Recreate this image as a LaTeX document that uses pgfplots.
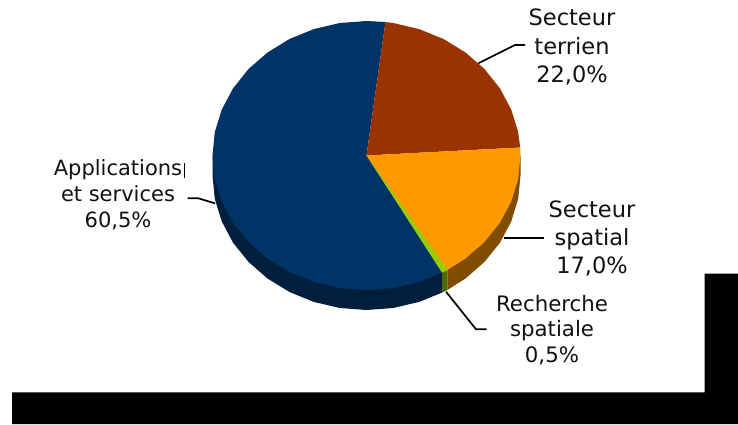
\documentclass[border=0pt]{standalone}
\usepackage{fontspec}
\setmainfont{DejaVu Sans}
\usepackage{pgfplots}
\pgfplotsset{compat=1.18}

\definecolor{bleu}{HTML}{003366}
\definecolor{bleusombre}{HTML}{001F3D}
\definecolor{brique}{HTML}{993300}
\definecolor{orange}{HTML}{FF9900}
\definecolor{orangesombre}{HTML}{804D00}
\definecolor{vert}{HTML}{99CC00}
\definecolor{vertsombre}{HTML}{4D6600}
\definecolor{texte}{HTML}{111111}

\tikzset{lbl/.style={align=center, text=texte, inner sep=0pt}}

\begin{document}
\begin{tikzpicture}
\begin{axis}[
    scale only axis,
    width=738pt, height=424pt,
    xmin=0, xmax=738, ymin=0, ymax=424,
    y dir=reverse,
    axis lines=none,
    every axis plot/.append style={forget plot},
]
% black border left over at the bottom right of the source image
\addplot[fill=black, draw=none] coordinates {(12,392.3) (704.5,392.3) (704.5,273.5) (738,273.5) (738,424) (12,424)};

% pie side, 20 px deep
\addplot[fill=bleusombre, draw=none] coordinates {(366.5,155.5) (212.5,155.5) (212.5,175.5) (214.8,198.9) (221.8,221.5) (233.1,242.8) (248.5,261.9) (267.5,278.5) (289.5,292) (313.8,301.9) (339.8,308) (366.5,310) (393.2,308) (419.2,301.9) (442,292.6) (442,272.6)};
\addplot[fill=orangesombre, draw=none] coordinates {(366.5,155.5) (447.5,269.9) (447.5,289.9) (465.5,278.5) (484.5,261.9) (499.9,242.8) (511.2,221.5) (518.2,198.9) (520.5,175.5) (520.5,155.5)};
\addplot[fill=vertsombre, draw=none] coordinates {(442,272.6) (442,292.6) (447.5,289.9) (447.5,269.9)};

% pie top
\addplot[fill=bleu, draw=none] coordinates {(366.5,155.5) (385.5,22) (366.5,21) (339.8,23) (313.8,29.1) (289.5,39) (267.5,52.5) (248.5,69) (233.1,88.3) (221.8,109.5) (214.8,132.1) (212.5,155.5) (214.8,178.9) (221.8,201.5) (233.1,222.8) (248.5,241.9) (267.5,258.5) (289.5,272) (313.8,281.9) (339.8,288) (366.5,290) (393.2,288) (419.2,281.9) (442,272.6)};
\addplot[fill=brique, draw=none] coordinates {(366.5,155.5) (385.5,22) (393.2,23) (419.2,29.1) (443.5,39) (465.5,52.5) (484.5,69) (499.9,88.3) (511.2,109.5) (518.2,132.1) (520.2,147.5)};
\addplot[fill=orange, draw=none] coordinates {(366.5,155.5) (520.2,147.5) (520.5,155.5) (518.2,178.9) (511.2,201.5) (499.9,222.8) (484.5,241.9) (465.5,258.5) (447.5,269.9)};
\addplot[fill=vert, draw=none] coordinates {(366.5,155.5) (447.5,269.9) (442,272.6)};

% leader lines
\addplot[black, line width=1.7pt] coordinates {(478.3,63.3) (515,45) (525,45)};
\addplot[black, line width=1.7pt] coordinates {(504,237.7) (544,237.7)};
\addplot[black, line width=1.7pt] coordinates {(446,291.7) (476,329.3) (486.7,329.3)};
\addplot[black, line width=1.7pt] coordinates {(215,203.3) (198.3,198.3) (187.7,198.3)};
\addplot[black, line width=1pt] coordinates {(184,163.3) (184,178)};

\node[lbl, font=\fontsize{22.5}{28.5}\selectfont] at (axis cs:572,47) {Secteur\\terrien\\22,0\%};
\node[lbl, font=\fontsize{22.5}{28}\selectfont] at (axis cs:592,238) {Secteur\\spatial\\17,0\%};
\node[lbl, font=\fontsize{21.3}{25.5}\selectfont] at (axis cs:552,330) {Recherche\\spatiale\\0,5\%};
\node[lbl, font=\fontsize{21}{26}\selectfont] at (axis cs:118,195) {Applications\\et services\\60,5\%};
\end{axis}
\path (current axis.south west) rectangle (current axis.north east);
\end{tikzpicture}
\end{document}
